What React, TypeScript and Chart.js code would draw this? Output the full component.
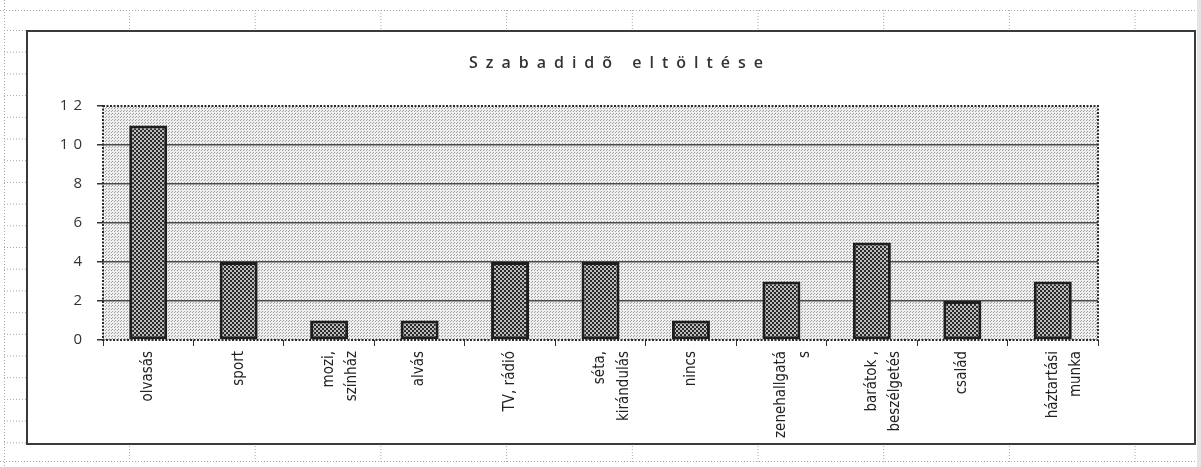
import { useEffect, useRef } from "react";
import { Chart, registerables } from "chart.js";

Chart.register(...registerables);

const TITLE = "Szabadidõ eltöltése";
const CATEGORIES: (string | string[])[] = [
  "olvasás",
  "sport",
  ["mozi,", "színház"],
  "alvás",
  "TV, rádió",
  ["séta,", "kirándulás"],
  "nincs",
  ["zenehallgatá", "s"],
  ["barátok ,", "beszélgetés"],
  "család",
  ["háztartási", "munka"],
];
const VALUES = [11, 4, 1, 1, 4, 4, 1, 3, 5, 2, 3];
const Y_MIN = 0;
const Y_MAX = 12;
const Y_STEP = 2;

const W = 1201;
const H = 467;

function tile(size: number, draw: (g: CanvasRenderingContext2D) => void) {
  const c = document.createElement("canvas");
  c.width = size;
  c.height = size;
  const g = c.getContext("2d")!;
  draw(g);
  return c;
}

export default function App() {
  const ref = useRef<HTMLCanvasElement | null>(null);

  useEffect(() => {
    document.body.style.margin = "0";
    const canvas = ref.current!;
    const ctx = canvas.getContext("2d")!;

    const plotTile = tile(3, (g) => {
      g.fillStyle = "#eeeeee";
      g.fillRect(0, 0, 3, 3);
      g.fillStyle = "#a0a0a0";
      g.fillRect(0, 0, 1, 1);
      g.fillRect(1, 2, 1, 1);
    });
    const barTile = tile(4, (g) => {
      g.fillStyle = "#2a2a2a";
      g.fillRect(0, 0, 4, 4);
      g.fillStyle = "#bdbdbd";
      g.fillRect(0, 0, 2, 2);
      g.fillRect(2, 2, 2, 2);
    });
    const plotPattern = ctx.createPattern(plotTile, "repeat")!;
    const barPattern = ctx.createPattern(barTile, "repeat")!;

    const decor = {
      id: "decor",
      beforeDraw(chart: any) {
        const { ctx: c, chartArea: a } = chart;
        c.save();
        c.fillStyle = "#ffffff";
        c.fillRect(0, 0, W, H);
        // neighbouring page strip
        c.fillStyle = "#e4e4e4";
        c.fillRect(1197, 0, W - 1197, H);
        // spreadsheet cell lines (dotted)
        c.strokeStyle = "#a8a8a8";
        c.lineWidth = 1;
        c.setLineDash([1, 2]);
        c.beginPath();
        c.moveTo(0, 10.5);
        c.lineTo(1197, 10.5);
        c.moveTo(0, 461.5);
        c.lineTo(1197, 461.5);
        c.moveTo(4.5, 0);
        c.lineTo(4.5, H);
        for (let x = 129.5; x < 1190; x += 125.7) {
          c.moveTo(x, 10);
          c.lineTo(x, 29);
          c.moveTo(x, 446);
          c.lineTo(x, 462);
        }
        for (let y = 30.5; y < 460; y += 21.7) {
          c.moveTo(4, y);
          c.lineTo(26, y);
        }
        c.stroke();
        c.setLineDash([]);
        // outer chart box
        c.strokeStyle = "#3a3a3a";
        c.lineWidth = 2;
        c.strokeRect(27, 31, 1168, 413);
        // plot area fill
        c.fillStyle = plotPattern;
        c.fillRect(a.left, a.top, a.right - a.left, a.bottom - a.top);
        c.restore();
      },
      afterDatasetsDraw(chart: any) {
        const { ctx: c, chartArea: a } = chart;
        c.save();
        c.strokeStyle = "#2a2a2a";
        c.lineWidth = 2;
        c.setLineDash([2, 1.5]);
        c.strokeRect(a.left, a.top, a.right - a.left, a.bottom - a.top);
        c.restore();
      },
      afterDraw(chart: any) {
        const { ctx: c } = chart;
        c.save();
        // title with wide letter spacing
        c.fillStyle = "#333333";
        c.font = "600 16px 'Open Sans', 'DejaVu Sans', sans-serif";
        c.textBaseline = "middle";
        c.textAlign = "center";
        (c as any).letterSpacing = "8px";
        c.fillText(TITLE, 620, 63);
        // y tick labels with letter spacing
        const ys = chart.scales.y;
        c.font = "15px 'Open Sans', 'DejaVu Sans', sans-serif";
        c.textAlign = "right";
        (c as any).letterSpacing = "5px";
        ys.ticks.forEach((t: any) => {
          const y = ys.getPixelForValue(t.value);
          c.fillText(String(t.value), 87, y);
        });
        (c as any).letterSpacing = "0px";
        c.restore();
      },
    };

    const chart = new Chart(canvas, {
      type: "bar",
      data: {
        labels: CATEGORIES as any,
        datasets: [
          {
            data: VALUES,
            backgroundColor: barPattern as any,
            borderColor: "#1e1e1e",
            borderWidth: 3,
            borderSkipped: false,
            barPercentage: 0.42,
            categoryPercentage: 1,
          },
        ],
      },
      options: {
        responsive: false,
        animation: false,
        devicePixelRatio: 1,
        layout: { padding: { top: 106, right: 103, bottom: 0, left: 0 } },
        plugins: {
          legend: { display: false },
          title: { display: false },
          tooltip: { enabled: false },
        },
        scales: {
          x: {
            grid: {
              drawOnChartArea: false,
              drawTicks: true,
              tickLength: 6,
              tickColor: "#333",
              lineWidth: 1,
            },
            border: { display: false },
            ticks: {
              autoSkip: false,
              maxRotation: 90,
              minRotation: 90,
              padding: 5,
              color: "#222",
              font: {
                family: "'Liberation Sans Narrow', 'Arial Narrow', 'DejaVu Sans Condensed', sans-serif",
                size: 15,
                lineHeight: 1.55,
              },
            },
            afterFit: (s: any) => {
              s.height = 127;
            },
          },
          y: {
            min: Y_MIN,
            max: Y_MAX,
            ticks: { stepSize: Y_STEP, display: false },
            grid: {
              color: (c: any) =>
                c.tick && (c.tick.value === Y_MIN || c.tick.value === Y_MAX) ? "rgba(0,0,0,0)" : "#4a4a4a",
              tickColor: "#333",
              lineWidth: 1.5,
              drawTicks: true,
              tickLength: 6,
            },
            border: { display: false },
            afterFit: (s: any) => {
              s.width = 103;
            },
          },
        },
      },
      plugins: [decor],
    });

    return () => chart.destroy();
  }, []);

  return <canvas ref={ref} width={W} height={H} style={{ display: "block", width: W, height: H }} />;
}
